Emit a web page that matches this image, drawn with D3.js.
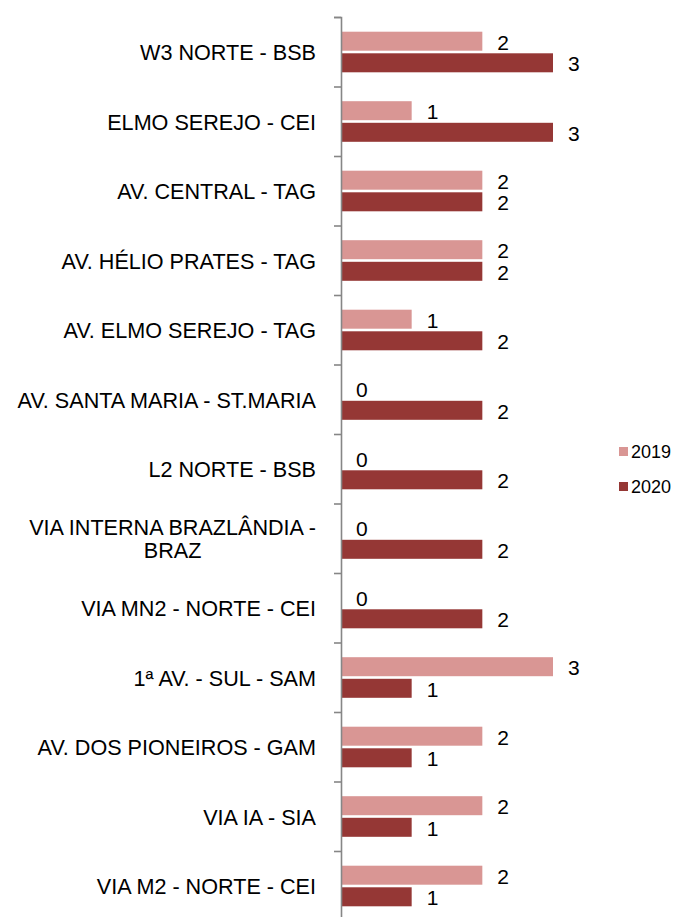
<!DOCTYPE html>
<html>
<head>
<meta charset="utf-8">
<script src="https://cdn.jsdelivr.net/npm/d3@7"></script>
<style>
  body { margin: 0; background: #fff; }
  svg { display: block; font-family: "Liberation Sans", Arial, sans-serif; }
</style>
</head>
<body>
<div id="chart"></div>
<script>
// data
const categories = [
  "W3 NORTE - BSB",
  "ELMO SEREJO - CEI",
  "AV. CENTRAL - TAG",
  "AV. HÉLIO PRATES - TAG",
  "AV. ELMO SEREJO - TAG",
  "AV. SANTA MARIA - ST.MARIA",
  "L2 NORTE - BSB",
  "VIA INTERNA BRAZLÂNDIA - BRAZ",
  "VIA MN2 - NORTE - CEI",
  "1ª AV. - SUL - SAM",
  "AV. DOS PIONEIROS - GAM",
  "VIA IA - SIA",
  "VIA M2 - NORTE - CEI"
];
const series = ["2019", "2020"];
const values2019 = [2, 1, 2, 2, 1, 0, 0, 0, 0, 3, 2, 2, 2];
const values2020 = [3, 3, 2, 2, 2, 2, 2, 2, 2, 1, 1, 1, 1];
const colors = ["#D99694", "#953735"];

const W = 675, H = 917;
const axisX = 341, topY = 17, step = 69.5;

const svg = d3.select("#chart").append("svg")
    .attr("width", W)
    .attr("height", H);

let y = d3.scaleBand()
    .domain(categories)
    .range([topY, topY + step * categories.length])
    .padding(0);

let ySub = d3.scaleBand()
    .domain(series)
    .range([14.7, 55.3])
    .paddingInner(0.12);

let x = d3.scaleLinear()
    .domain([0, 3])
    .range([axisX, 553]);

let rows = categories.map((c, i) => ({cat: c, vals: [values2019[i], values2020[i]]}));

let group = svg.selectAll("g.cat")
    .data(rows)
    .enter().append("g")
    .attr("class", "cat")
    .attr("transform", d => "translate(0," + y(d.cat) + ")");

let bars = group.selectAll("g.bar")
    .data(d => d.vals.map((v, k) => ({s: series[k], v: v, k: k})))
    .enter().append("g")
    .attr("class", "bar");

bars.append("rect")
    .attr("x", x(0))
    .attr("y", d => ySub(d.s))
    .attr("width", d => x(d.v) - x(0))
    .attr("height", ySub.bandwidth())
    .attr("fill", d => colors[d.k]);

bars.append("text")
    .attr("x", d => x(d.v) + 15)
    .attr("y", d => ySub(d.s) + ySub.bandwidth() / 2 + 1)
    .attr("dy", "0.35em")
    .style("font-size", "21px")
    .attr("fill", "#000")
    .text(d => d.v);

// axis line with boundary ticks
let yIdx = d3.scaleLinear().domain([0, categories.length]).range(y.range());
svg.append("g")
    .attr("transform", "translate(" + axisX + ",0)")
    .call(d3.axisLeft(yIdx).ticks(categories.length).tickSize(7).tickSizeOuter(7).tickFormat(""))
    .call(g => g.selectAll("path,line").attr("stroke", "#868686").attr("stroke-width", 1.6));

// category labels, wrapped when too long
let labels = svg.selectAll("text.cat")
    .data(categories)
    .enter().append("text")
    .attr("class", "cat")
    .attr("text-anchor", "end")
    .style("font-size", "21.6px")
    .attr("fill", "#000");

labels.each(function(d) {
    let t = d3.select(this);
    let words = d.split(" "), lines = [], line = [];
    let probe = t.append("tspan");
    words.forEach(w => {
        line.push(w);
        probe.text(line.join(" "));
        if (probe.node().getComputedTextLength() > 320 && line.length > 1) {
            line.pop();
            lines.push(line.join(" "));
            line = [w];
        }
    });
    lines.push(line.join(" "));
    probe.remove();
    let cy = y(d) + y.bandwidth() / 2;
    let lh = 23;
    let x0 = 316;
    if (lines.length > 1) {
        t.attr("text-anchor", "middle");
        // centre under the first line
        let tmp = t.append("tspan").text(lines[0]);
        let w0 = tmp.node().getComputedTextLength();
        tmp.remove();
        x0 = 316 - w0 / 2;
    }
    lines.forEach((l, i) => {
        t.append("tspan")
            .attr("x", x0)
            .attr("y", cy + (i - (lines.length - 1) / 2) * lh + 1)
            .attr("dy", "0.35em")
            .text(l);
    });
});

// legend
let legend = svg.selectAll("g.legend")
    .data(series)
    .enter().append("g")
    .attr("class", "legend")
    .attr("transform", (d, i) => "translate(619," + (447 + i * 35) + ")");

legend.append("rect")
    .attr("width", 9)
    .attr("height", 9)
    .attr("fill", (d, i) => colors[i]);

legend.append("text")
    .attr("x", 12)
    .attr("y", 5)
    .attr("dy", "0.35em")
    .style("font-size", "18px")
    .text(d => d);
</script>
</body>
</html>
